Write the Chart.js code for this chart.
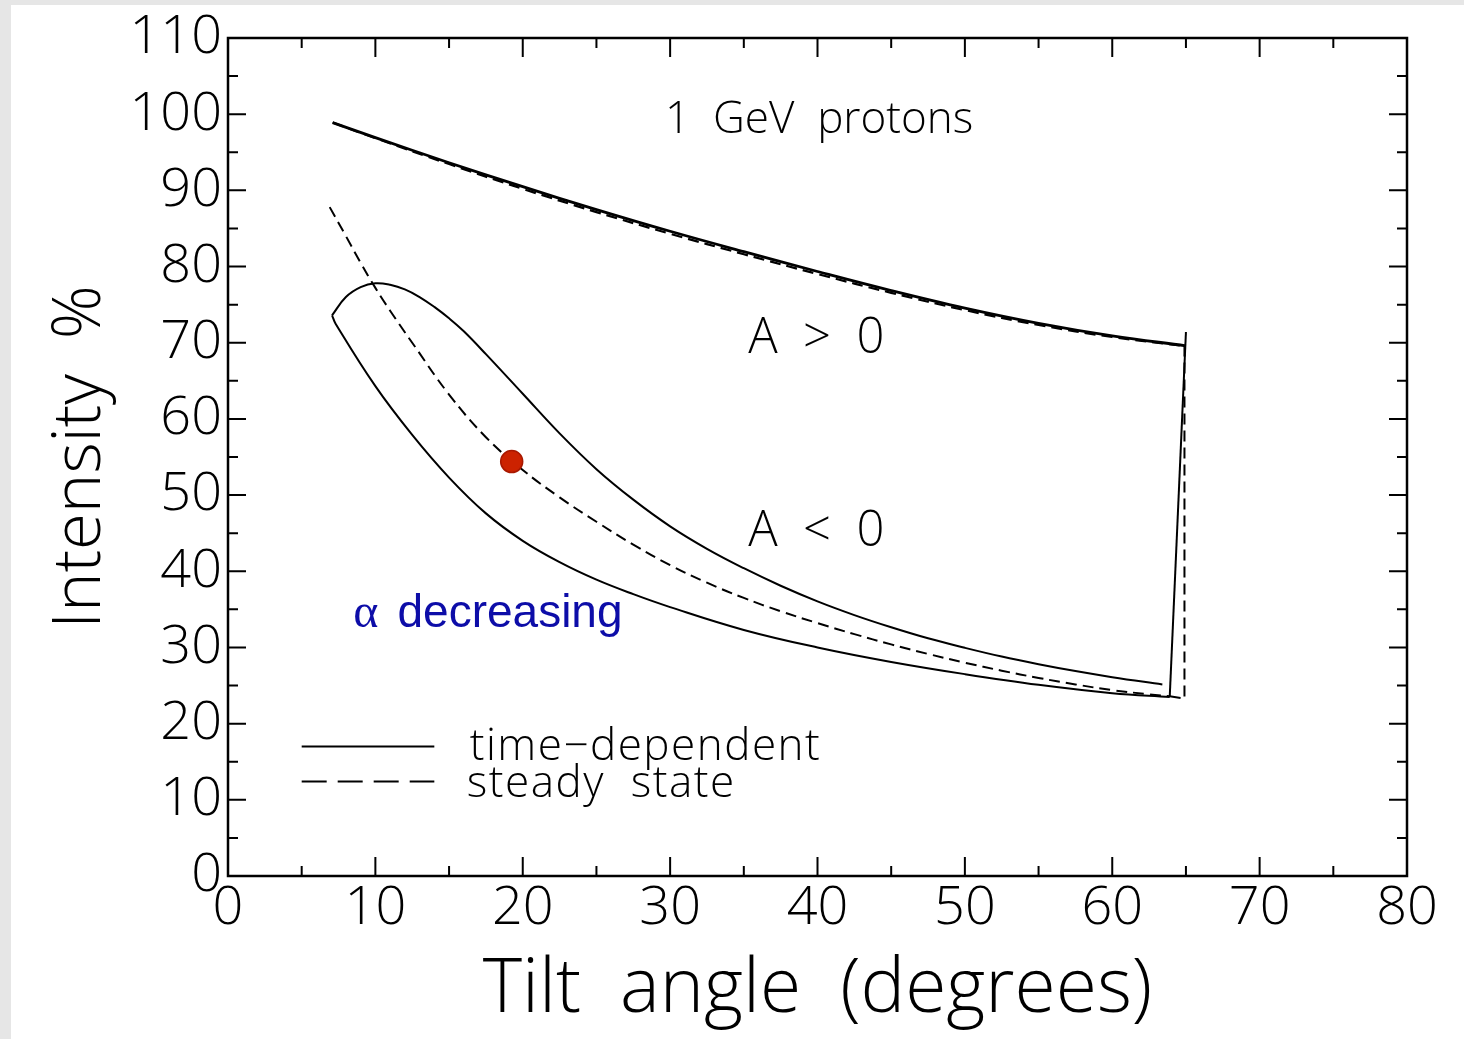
<!DOCTYPE html>
<html>
<head>
<meta charset="utf-8">
<title>Intensity vs tilt angle</title>
<script src="https://cdn.jsdelivr.net/npm/chart.js@4.4.1/dist/chart.umd.min.js"></script>
<style>
  html, body { margin: 0; padding: 0; background: #e6e6e6; overflow: hidden; }
  #painel { position: absolute; left: 11px; top: 5px; width: 1453px; height: 1034px; background: #fff; }
  canvas { display: block; }
</style>
</head>
<body>
<div id="painel"><canvas id="grafico" width="1453" height="1034"></canvas></div>
<script>
  // eixos
  const xTicks = [0, 10, 20, 30, 40, 50, 60, 70, 80];
  const yTicks = [0, 10, 20, 30, 40, 50, 60, 70, 80, 90, 100, 110];

  // A > 0 (as duas curvas quase coincidem)
  const tiltAposTD = [7.1, 10, 15, 20, 25, 30, 35, 40, 45, 50, 55, 60, 65];
  const intAposTD  = [98.9, 96.93, 93.63, 90.48, 87.48, 84.63, 81.95, 79.35, 76.85, 74.55, 72.55, 70.9, 69.6];
  const tiltAposSS = [7.1, 10, 15, 20, 25, 30, 35, 40, 45, 50, 55, 60, 65];
  const intAposSS  = [98.9, 96.85, 93.45, 90.2, 87.15, 84.3, 81.62, 79.02, 76.55, 74.28, 72.33, 70.75, 69.55];

  // A < 0, time-dependent: ramo de cima e ramo de baixo
  const tiltAnegSup = [7.06, 8, 9, 10, 11, 12, 13, 14, 15, 16, 17.5, 20, 22.5, 25, 27.5, 30, 32.5, 35, 37.5, 40, 42.5, 45, 47.5, 50, 52.5, 55, 57.5, 60, 63.4];
  const intAnegSup  = [73.6, 76.0, 77.3, 77.8, 77.6, 77.0, 76.0, 74.7, 73.2, 71.5, 68.5, 63.3, 58.1, 53.4, 49.4, 45.9, 42.95, 40.4, 38.1, 36.05, 34.25, 32.65, 31.2, 29.95, 28.8, 27.8, 26.9, 26.1, 25.15];
  const tiltAnegInf = [7.06, 7.3, 10, 12.5, 15, 17.5, 20, 22.5, 25, 27.5, 30, 35, 40, 45, 50, 55, 60, 63.9];
  const intAnegInf  = [73.6, 72.5, 64.3, 57.9, 52.3, 47.6, 44.0, 41.2, 38.9, 37.0, 35.3, 32.3, 30.0, 28.1, 26.5, 25.1, 24.0, 23.5];
  const tiltSaltoTD = [63.9, 65.0];
  const intSaltoTD  = [23.5, 71.4];

  // A < 0, steady state
  const tiltAnegSS = [6.9, 8, 9, 10, 11, 12.5, 15, 17.5, 20, 22.5, 25, 27.5, 30, 32.5, 35, 37.5, 40, 42.5, 45, 47.5, 50, 52.5, 55, 57.5, 60, 62.5, 63.9];
  const intAnegSS  = [87.8, 84.0, 80.5, 77.2, 74.2, 70.0, 63.2, 57.6, 53.3, 49.7, 46.5, 43.5, 40.8, 38.5, 36.5, 34.75, 33.2, 31.75, 30.4, 29.15, 28.0, 26.95, 26.0, 25.15, 24.4, 23.85, 23.6];
  const tiltSaltoSS = [63.9, 64.9, 64.9];
  const intSaltoSS  = [23.6, 23.3, 69.6];

  // ponto vermelho
  const tiltMarca = [19.25];
  const intMarca  = [54.4];

  const FONTE = "'Open Sans', 'DejaVu Sans', sans-serif";

  function pares(xs, ys) {
    return xs.map((x, i) => ({ x, y: ys[i] }));
  }

  function linha(xs, ys, tracejado, largura, tensao) {
    return {
      data: pares(xs, ys),
      showLine: true,
      borderColor: "#000",
      borderWidth: largura,
      borderDash: tracejado ? [11, 6] : [],
      tension: tensao,
      pointRadius: 0,
      fill: false
    };
  }

  const moldura = {
    id: "moldura",
    afterDatasetsDraw(chart) {
      const ctx = chart.ctx;
      const a = chart.chartArea;
      const sx = chart.scales.x, sy = chart.scales.y;
      ctx.save();
      ctx.strokeStyle = "#000";
      ctx.lineWidth = 2.5;
      ctx.setLineDash([]);
      ctx.strokeRect(a.left, a.top, a.right - a.left, a.bottom - a.top);

      // ticks para dentro, nos quatro lados
      ctx.lineWidth = 2;
      ctx.beginPath();
      for (let v = 0; v <= 80; v += 5) {
        const px = sx.getPixelForValue(v);
        const len = v % 10 === 0 ? 19 : 10;
        ctx.moveTo(px, a.bottom); ctx.lineTo(px, a.bottom - len);
        ctx.moveTo(px, a.top); ctx.lineTo(px, a.top + len);
      }
      for (let v = 0; v <= 110; v += 5) {
        const py = sy.getPixelForValue(v);
        const len = v % 10 === 0 ? 18 : 10;
        ctx.moveTo(a.left, py); ctx.lineTo(a.left + len, py);
        ctx.moveTo(a.right, py); ctx.lineTo(a.right - len, py);
      }
      ctx.stroke();

      // textos
      ctx.fillStyle = "#000";
      ctx.textBaseline = "alphabetic";
      ctx.textAlign = "left";
      ctx.font = `300 44px ${FONTE}`;
      ctx.fillText("1  GeV  protons", sx.getPixelForValue(29.65), sy.getPixelForValue(97.5));
      ctx.font = `300 49px ${FONTE}`;
      ctx.fillText("A  >  0", sx.getPixelForValue(35.3), sy.getPixelForValue(68.6));
      ctx.fillText("A  <  0", sx.getPixelForValue(35.3), sy.getPixelForValue(43.3));

      // legenda
      ctx.lineWidth = 2;
      ctx.beginPath();
      ctx.moveTo(sx.getPixelForValue(5.0), sy.getPixelForValue(17.0));
      ctx.lineTo(sx.getPixelForValue(14.0), sy.getPixelForValue(17.0));
      ctx.stroke();
      ctx.setLineDash([25, 11]);
      ctx.beginPath();
      ctx.moveTo(sx.getPixelForValue(5.0), sy.getPixelForValue(12.4));
      ctx.lineTo(sx.getPixelForValue(14.0), sy.getPixelForValue(12.4));
      ctx.stroke();
      ctx.setLineDash([]);
      ctx.font = `300 44px ${FONTE}`;
      ctx.letterSpacing = "1.5px";
      ctx.fillText("time\u2212dependent", sx.getPixelForValue(16.4), sy.getPixelForValue(15.2));
      ctx.fillText("steady  state", sx.getPixelForValue(16.2), sy.getPixelForValue(10.4));
      ctx.letterSpacing = "0px";

      // anotação azul
      ctx.fillStyle = "#0d0da8";
      ctx.font = "48px 'Liberation Serif', serif";
      ctx.fillText("\u03b1", sx.getPixelForValue(8.5), sy.getPixelForValue(32.7));
      ctx.font = "46px 'Liberation Sans', Arial, sans-serif";
      ctx.fillText("decreasing", sx.getPixelForValue(11.5), sy.getPixelForValue(32.7));
      ctx.restore();
    }
  };

  const canvas = document.getElementById("grafico");

  new Chart(canvas, {
    type: "scatter",
    data: {
      datasets: [
        {
          data: pares(tiltMarca, intMarca),
          pointRadius: 11,
          backgroundColor: "#cc2200",
          borderColor: "#a81800",
          borderWidth: 1.5,
          showLine: false
        },
        linha(tiltAposTD, intAposTD, false, 2.8, 0.4),
        linha(tiltAposSS, intAposSS, true, 2.2, 0.4),
        linha(tiltAnegSup, intAnegSup, false, 2, 0.4),
        linha(tiltAnegInf, intAnegInf, false, 2, 0.4),
        linha(tiltSaltoTD, intSaltoTD, false, 2, 0),
        linha(tiltAnegSS, intAnegSS, true, 2, 0.4),
        linha(tiltSaltoSS, intSaltoSS, true, 2, 0)
      ]
    },
    options: {
      responsive: false,
      animation: false,
      layout: { padding: { top: 33, right: 57, left: 0, bottom: 0 } },
      plugins: { legend: { display: false }, tooltip: { enabled: false } },
      scales: {
        x: {
          type: "linear",
          min: 0,
          max: 80,
          afterBuildTicks: s => { s.ticks = xTicks.map(v => ({ value: v })); },
          afterFit: s => { s.height = 163; s.paddingLeft = 0; s.paddingRight = 0; },
          grid: { display: false, drawTicks: false },
          border: { display: false },
          ticks: { color: "#000", padding: 0, maxRotation: 0, autoSkip: false, font: { family: FONTE, size: 54, weight: "300" } },
          title: {
            display: true,
            text: "Tilt  angle  (degrees)",
            color: "#000",
            font: { family: FONTE, size: 75, weight: "300" },
            padding: { top: 0, bottom: 3 }
          }
        },
        y: {
          type: "linear",
          min: 0,
          max: 110,
          afterBuildTicks: s => { s.ticks = yTicks.map(v => ({ value: v })); },
          afterFit: s => { s.width = 217; s.paddingTop = 0; s.paddingBottom = 0; },
          grid: { display: false, drawTicks: false },
          border: { display: false },
          ticks: { color: "#000", padding: 6, autoSkip: false, font: { family: FONTE, size: 54, weight: "300" } },
          title: {
            display: true,
            text: "Intensity  %",
            color: "#000",
            font: { family: FONTE, size: 67, weight: "300" },
            padding: { top: 30, bottom: 0 }
          }
        }
      }
    },
    plugins: [moldura]
  });
</script>
</body>
</html>
